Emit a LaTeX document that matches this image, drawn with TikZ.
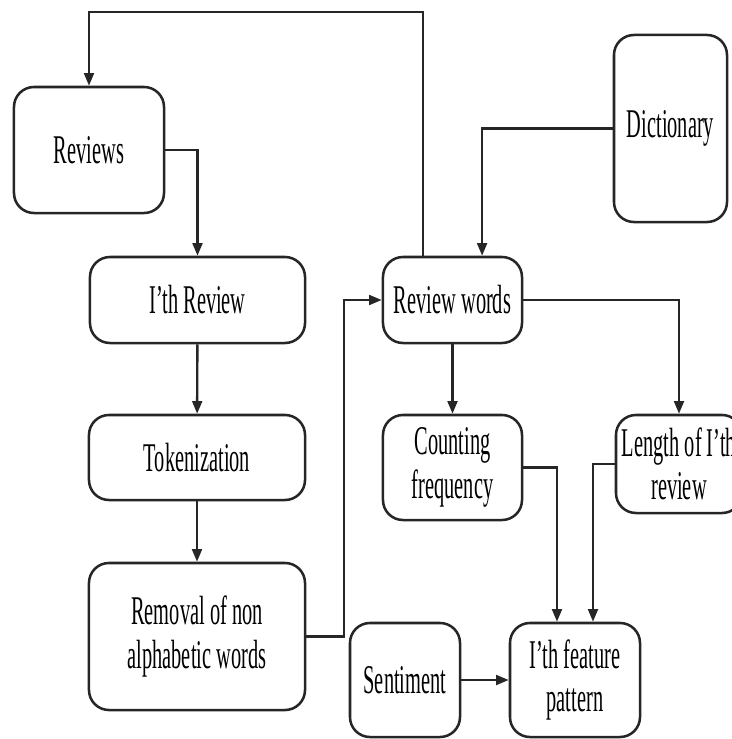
\documentclass[tikz,border=0pt]{standalone}
\usepackage{fontspec}
\setmainfont[FakeStretch=0.5]{Liberation Serif}
\usetikzlibrary{arrows.meta}
\tikzset{
    stepnode/.style={
        rectangle,
        rounded corners=0.5cm,
        draw=black!85, % 边框
        line width=1.8pt,
        align=center,
        inner sep=0,
        font=\fontsize{29}{31}\selectfont
    },
    flow/.style={
        draw=black!85,
        line width=1.7pt,
        -{Triangle[length=9pt,width=7pt]} % 箭头
    }
}

\begin{document}
\begin{tikzpicture}[x=0.025cm, y=-0.025cm]
    \useasboundingbox (0,0) rectangle (732,739);
    \clip (0,0) rectangle (732,739);
    % 左列
    \node[stepnode, minimum width=3.75cm, minimum height=3.15cm] (reviews) at (89,150) {Reviews};
    \node[stepnode, minimum width=5.375cm, minimum height=2.15cm] (ith) at (197.5,300) {I'th Review};
    \node[stepnode, minimum width=5.4cm, minimum height=2.125cm] (token) at (197,457.5) {Tokenization};
    \node[stepnode, minimum width=5.4cm, minimum height=3.675cm] (removal) at (197,636.5) {Removal of non\\alphabetic words};
    % 右侧
    \node[stepnode, minimum width=3.475cm, minimum height=2.15cm] (words) at (452.5,300) {Review words};
    \node[stepnode, minimum width=2.825cm, minimum height=4.675cm] (dict) at (670.5,128.5) {Dictionary};
    \node[stepnode, minimum width=3.475cm, minimum height=2.625cm] (count) at (452.5,467.5) {Counting\\frequency};
    \node[stepnode, minimum width=3.15cm, minimum height=2.45cm] (length) at (679,464) {Length of I'th\\review};
    \node[stepnode, minimum width=2.75cm, minimum height=2.85cm] (senti) at (405,680) {Sentiment};
    \node[stepnode, minimum width=3.25cm, minimum height=2.85cm] (feature) at (575,680) {I'th feature\\pattern};
    \coordinate (loop) at (300,12);

    % 连线
    \draw[flow] ([xshift=-0.74cm]words.north) |- (loop) -| (reviews.north);
    \draw[flow] (reviews.east) -| (ith.north);
    \draw[flow] (ith) -- (token);
    \draw[flow] (token) -- (removal);
    \draw[flow] (removal.east) -- ++(38,0) |- (words.west);
    \draw[flow] (dict.west) -| ([xshift=0.74cm]words.north);
    \draw[flow] (words) -- (count);
    \draw[flow] (words.east) -| (length.north);
    \draw[flow] (count.east) -| ([xshift=-0.45cm]feature.north);
    \draw[flow] (length.west) -| ([xshift=0.45cm]feature.north);
    \draw[flow] (senti) -- (feature);
\end{tikzpicture}
\end{document}
